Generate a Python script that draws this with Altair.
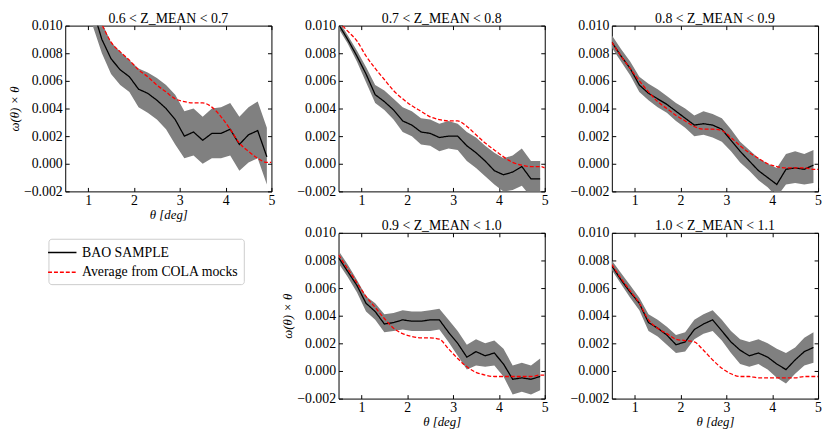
import altair as alt
import pandas as pd

FONT = "Liberation Serif"

THETA = [0.5, 0.7, 0.9, 1.1, 1.3, 1.5, 1.7, 1.9, 2.1, 2.3, 2.5, 2.7, 2.9,
         3.1, 3.3, 3.5, 3.7, 3.9, 4.1, 4.3, 4.5, 4.7, 4.9]
MOCK_THETA = THETA + [5.0]

TITLES = ["0.6 < Z_MEAN < 0.7", "0.7 < Z_MEAN < 0.8", "0.8 < Z_MEAN < 0.9",
          "0.9 < Z_MEAN < 1.0", "1.0 < Z_MEAN < 1.1"]

SERIES = ["BAO SAMPLE", "Average from COLA mocks"]
COLORS = ["#000000", "#ff0000"]
DASHES = [[1, 0], [4, 2]]

X_TICKS = [1, 2, 3, 4, 5]
Y_TICKS = [-0.002, 0.0, 0.002, 0.004, 0.006, 0.008, 0.010]
X_DOMAIN = [0.5, 5.0]
Y_DOMAIN = [-0.002, 0.010]

# panel 1: 0.6 < z < 0.7
BAO_1 = [0.0215, 0.0175, 0.0140, 0.0112, 0.0090, 0.0076, 0.0068, 0.0063, 0.0054, 0.0051, 0.0046, 0.0040,
         0.0032, 0.0020, 0.0023, 0.0017, 0.0022, 0.0022, 0.0025, 0.0014, 0.0021, 0.0024, 0.0005]
LO_1 = [0.0195, 0.0155, 0.0125, 0.0100, 0.0080, 0.0065, 0.0057, 0.0052, 0.0041, 0.0037, 0.0032, 0.0025,
        0.0014, 0.0004, 0.0006, 0.0000, 0.0004, 0.0004, 0.0006, -0.0005, 0.0001, 0.0004, -0.0015]
HI_1 = [0.0235, 0.0195, 0.0155, 0.0125, 0.0102, 0.0088, 0.0081, 0.0075, 0.0069, 0.0066, 0.0062, 0.0057,
        0.0050, 0.0038, 0.0040, 0.0034, 0.0040, 0.0041, 0.0044, 0.0034, 0.0041, 0.0045, 0.0026]
MOCK_1 = [0.0190, 0.0160, 0.0135, 0.0116, 0.0101, 0.0088, 0.0081, 0.0075, 0.0068, 0.0063, 0.0057, 0.0052,
          0.0047, 0.0045, 0.0044, 0.0044, 0.0041, 0.0034, 0.0025, 0.0015, 0.0009, 0.0004, 0.0001, 0.0001]

# panel 2: 0.7 < z < 0.8
BAO_2 = [0.0101, 0.0090, 0.0078, 0.0065, 0.0050, 0.0045, 0.0039, 0.0031, 0.0028, 0.0023, 0.0022, 0.0019,
         0.0020, 0.0020, 0.0013, 0.0008, 0.0002, -0.0005, -0.0008, -0.0006, -0.0002, -0.0011, -0.0011]
LO_2 = [0.0098, 0.0087, 0.0074, 0.0059, 0.0044, 0.0039, 0.0032, 0.0023, 0.0020, 0.0014, 0.0013, 0.0009,
        0.0011, 0.0010, 0.0002, -0.0003, -0.0009, -0.0015, -0.0020, -0.0019, -0.0016, -0.0024, -0.0024]
HI_2 = [0.0104, 0.0093, 0.0082, 0.0070, 0.0057, 0.0053, 0.0047, 0.0041, 0.0038, 0.0033, 0.0032, 0.0029,
        0.0031, 0.0029, 0.0023, 0.0019, 0.0013, 0.0008, 0.0004, 0.0006, 0.0011, 0.0002, 0.0002]
MOCK_2 = [0.0103, 0.0096, 0.0089, 0.0078, 0.0069, 0.0061, 0.0053, 0.0047, 0.0042, 0.0038, 0.0034, 0.0032,
          0.0031, 0.0031, 0.0027, 0.0021, 0.0015, 0.0010, 0.0005, 0.0001, -0.0001, -0.0002, -0.0002, -0.0003]

# panel 3: 0.8 < z < 0.9
BAO_3 = [0.0088, 0.0078, 0.0069, 0.0057, 0.0051, 0.0047, 0.0043, 0.0038, 0.0033, 0.0028, 0.0029, 0.0028,
         0.0025, 0.0017, 0.0009, 0.0002, -0.0005, -0.0010, -0.0015, -0.0004, -0.0003, -0.0004, -0.0001]
LO_3 = [0.0084, 0.0074, 0.0064, 0.0052, 0.0046, 0.0041, 0.0037, 0.0031, 0.0026, 0.0020, 0.0021, 0.0019,
        0.0016, 0.0009, 0.0001, -0.0005, -0.0012, -0.0017, -0.0024, -0.0015, -0.0014, -0.0015, -0.0014]
HI_3 = [0.0093, 0.0083, 0.0074, 0.0063, 0.0058, 0.0054, 0.0049, 0.0044, 0.0040, 0.0035, 0.0038, 0.0036,
        0.0033, 0.0025, 0.0016, 0.0010, 0.0004, 0.0000, -0.0003, 0.0007, 0.0009, 0.0007, 0.0010]
MOCK_3 = [0.0088, 0.0078, 0.0069, 0.0060, 0.0052, 0.0045, 0.0040, 0.0035, 0.0031, 0.0027, 0.0025, 0.0025,
          0.0024, 0.0019, 0.0013, 0.0008, 0.0004, 0.0000, -0.0002, -0.0003, -0.0003, -0.0003, -0.0004, -0.0004]

# panel 4: 0.9 < z < 1.0
BAO_4 = [0.0082, 0.0072, 0.0062, 0.0049, 0.0043, 0.0034, 0.0035, 0.0037, 0.0036, 0.0036, 0.0037, 0.0037,
         0.0028, 0.0020, 0.0010, 0.0014, 0.0011, 0.0013, 0.0005, -0.0006, -0.0005, -0.0006, -0.0004]
LO_4 = [0.0078, 0.0068, 0.0057, 0.0043, 0.0037, 0.0028, 0.0029, 0.0030, 0.0029, 0.0029, 0.0029, 0.0030,
        0.0021, 0.0011, 0.0001, 0.0004, 0.0003, 0.0004, -0.0004, -0.0017, -0.0015, -0.0017, -0.0014]
HI_4 = [0.0087, 0.0077, 0.0066, 0.0054, 0.0049, 0.0041, 0.0042, 0.0044, 0.0043, 0.0043, 0.0044, 0.0045,
        0.0037, 0.0029, 0.0019, 0.0023, 0.0020, 0.0022, 0.0016, 0.0004, 0.0006, 0.0004, 0.0009]
MOCK_4 = [0.0084, 0.0074, 0.0064, 0.0054, 0.0046, 0.0038, 0.0031, 0.0027, 0.0025, 0.0024, 0.0024, 0.0023,
          0.0016, 0.0009, 0.0003, -0.0001, -0.0003, -0.0004, -0.0004, -0.0004, -0.0004, -0.0004, -0.0003, -0.0003]

# panel 5: 1.0 < z < 1.1
BAO_5 = [0.0076, 0.0066, 0.0057, 0.0049, 0.0035, 0.0031, 0.0026, 0.0019, 0.0021, 0.0030, 0.0034, 0.0037,
         0.0029, 0.0021, 0.0015, 0.0011, 0.0013, 0.0010, 0.0005, 0.0001, 0.0008, 0.0014, 0.0017]
LO_5 = [0.0073, 0.0063, 0.0053, 0.0044, 0.0029, 0.0025, 0.0019, 0.0013, 0.0014, 0.0023, 0.0027, 0.0029,
        0.0022, 0.0013, 0.0005, 0.0003, 0.0005, 0.0001, -0.0005, -0.0009, -0.0002, 0.0004, 0.0006]
HI_5 = [0.0080, 0.0071, 0.0062, 0.0053, 0.0041, 0.0037, 0.0032, 0.0026, 0.0028, 0.0037, 0.0041, 0.0044,
        0.0037, 0.0029, 0.0023, 0.0021, 0.0023, 0.0020, 0.0016, 0.0013, 0.0017, 0.0024, 0.0028]
MOCK_5 = [0.0077, 0.0067, 0.0058, 0.0049, 0.0037, 0.0031, 0.0027, 0.0023, 0.0022, 0.0021, 0.0015, 0.0008,
          0.0002, -0.0002, -0.0004, -0.0004, -0.0005, -0.0005, -0.0005, -0.0005, -0.0005, -0.0004, -0.0004, -0.0004]

BAO = [BAO_1, BAO_2, BAO_3, BAO_4, BAO_5]
LO = [LO_1, LO_2, LO_3, LO_4, LO_5]
HI = [HI_1, HI_2, HI_3, HI_4, HI_5]
MOCK = [MOCK_1, MOCK_2, MOCK_3, MOCK_4, MOCK_5]

W, H = 209, 168
GRAY = "#808080"
TICK_FONT = 14


def tick_axis(orient):
    vals = X_TICKS if orient in ("bottom", "top") else Y_TICKS
    return alt.Axis(orient=orient, offset=-4, tickSize=4, ticks=True, labels=False,
                    domain=False, grid=False, title=None, values=vals,
                    tickColor="black", tickWidth=1)


def panel(i, show_x_title, show_y_title):
    band_df = pd.DataFrame({"theta": THETA, "lo": LO[i], "hi": HI[i]})
    line_df = pd.concat([
        pd.DataFrame({"theta": THETA, "value": BAO[i], "series": SERIES[0]}),
        pd.DataFrame({"theta": MOCK_THETA, "value": MOCK[i], "series": SERIES[1]}),
    ], ignore_index=True)

    xs = alt.Scale(domain=X_DOMAIN, nice=False, zero=False)
    ys = alt.Scale(domain=Y_DOMAIN, nice=False, zero=False)

    x_kw = dict(orient="bottom", values=X_TICKS, format="d", ticks=False, tickSize=0,
                labelPadding=2, labelFlush=False, domain=False, grid=False)
    if show_x_title:
        main_x = alt.Axis(title="θ [deg]", titleFontStyle="italic", titlePadding=1, **x_kw)
    else:
        main_x = alt.Axis(title=None, **x_kw)
    y_kw = dict(orient="left", values=Y_TICKS, format=".3f", ticks=False, tickSize=0,
                labelPadding=3, labelFlush=False, domain=False, grid=False)
    if show_y_title:
        main_y = alt.Axis(title="ω(θ) × θ", titleFontStyle="italic", titlePadding=2, **y_kw)
    else:
        main_y = alt.Axis(title=None, minExtent=57, **y_kw)

    leg = alt.Legend(title=None, orient="none", legendX=-17, legendY=216,
                     symbolType="M-1.8,0L1.8,0", symbolSize=256)
    color = alt.Color("series:N", scale=alt.Scale(domain=SERIES, range=COLORS), legend=leg)
    dash = alt.StrokeDash("series:N", scale=alt.Scale(domain=SERIES, range=DASHES), legend=leg)

    band = alt.Chart(band_df).mark_area(color=GRAY, opacity=1, clip=True).encode(
        x=alt.X("theta:Q", scale=xs, axis=main_x),
        y=alt.Y("lo:Q", scale=ys, axis=main_y),
        y2="hi:Q",
    )
    bao = alt.Chart(line_df).transform_filter(alt.datum.series == SERIES[0]).mark_line(
        clip=True, strokeWidth=1.3).encode(
        x=alt.X("theta:Q", scale=xs, axis=tick_axis("bottom")),
        y=alt.Y("value:Q", scale=ys, axis=tick_axis("left")),
        color=color, strokeDash=dash,
    )
    mock = alt.Chart(line_df).transform_filter(alt.datum.series == SERIES[1]).mark_line(
        clip=True, strokeWidth=1.3, interpolate="monotone").encode(
        x=alt.X("theta:Q", scale=xs, axis=tick_axis("top")),
        y=alt.Y("value:Q", scale=ys, axis=tick_axis("right")),
        color=color, strokeDash=dash,
    )
    return alt.layer(band, bao, mock).resolve_axis(x="independent", y="independent").properties(
        width=W, height=H, title=TITLES[i])


placeholder = alt.Chart(pd.DataFrame({"v": [0]})).mark_point(opacity=0).encode(
    x=alt.X("v:Q", axis=None), y=alt.Y("v:Q", axis=None)
).properties(width=W, height=H, view=alt.ViewBackground(stroke="transparent"))

p1 = panel(0, True, True)
p2 = panel(1, False, False)
p3 = panel(2, False, False)
p4 = panel(3, True, True)
p5 = panel(4, True, False)

chart = alt.concat(p1, p2, p3, placeholder, p4, p5, columns=3,
                   spacing={"row": -4, "column": 6}).properties(padding=0).configure_view(
    stroke="black", strokeWidth=1
).configure_axis(
    labelFont=FONT, titleFont=FONT, labelFontSize=TICK_FONT, titleFontSize=13,
    labelColor="black", titleColor="black", titleFontWeight="normal"
).configure_title(
    font=FONT, fontSize=14, fontWeight="normal", color="black", offset=-7
).configure_legend(
    strokeColor="#cccccc", fillColor="white", padding=5, cornerRadius=3,
    labelFont=FONT, labelFontSize=14, labelColor="black",
    symbolStrokeWidth=1.5, rowPadding=4, labelOffset=11
)

chart.save("out.html", embed_options={"renderer": "svg", "actions": False})
